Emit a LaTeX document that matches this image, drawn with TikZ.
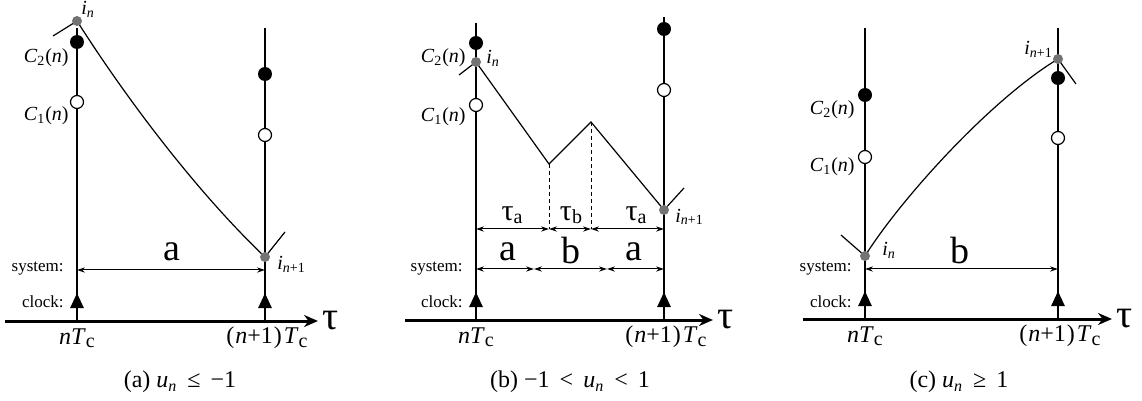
\documentclass[tikz,border=0pt]{standalone}
\usepackage{fontspec}
\setmainfont{Liberation Serif}
\usepackage{tikz}
\usetikzlibrary{arrows.meta}

\newcommand{\iN}{\textit{i}\textsubscript{\textit{n}}}
\newcommand{\iNN}{\textit{i}\textsubscript{\textit{n}+1}}
\newcommand{\Cn}[1]{\textit{C}\textsubscript{#1}(\textit{n})}
\newcommand{\Tc}{\textit{T}\raisebox{-0.3ex}{\fontsize{10}{12}\selectfont c}}
\newcommand{\tauS}[1]{τ\raisebox{-0.2ex}{\fontsize{10}{12}\selectfont #1}}

\begin{document}
\begin{tikzpicture}[x=0.5pt, y=-0.5pt,
  tline/.style={line width=1pt},
  axis/.style={line width=1.5pt, -{Stealth[length=7pt,width=6pt]}},
  clk/.style={line width=1.3pt, -{Triangle[length=7.5pt,width=6.5pt]}},
  sys/.style={line width=0.5pt, {Stealth[length=4pt,width=2.6pt]}-{Stealth[length=4pt,width=2.6pt]}},
  trj/.style={line width=0.6pt},
  fdot/.style={circle, fill=black, inner sep=0pt, minimum size=7pt},
  odot/.style={circle, draw=black, fill=white, line width=0.6pt, inner sep=0pt, minimum size=6.5pt},
  gdot/.style={circle, fill=black!55, inner sep=0pt, minimum size=5pt},
  lbl/.style={inner sep=0pt, font=\fontsize{10}{12}\selectfont},
  smalltxt/.style={inner sep=0pt, font=\fontsize{8.5}{10}\selectfont},
  bigtxt/.style={inner sep=0pt, font=\fontsize{19}{22}\selectfont},
  taulbl/.style={inner sep=0pt, font=\fontsize{15}{18}\selectfont},
  ticklbl/.style={inner sep=0pt, font=\fontsize{12}{14}\selectfont},
  capt/.style={inner sep=0pt, font=\fontsize{12}{14}\selectfont}]
  \useasboundingbox (0,0) rectangle (1142,401);

  % common frame: time lines, clock ticks, axis
  \foreach \p/\xl/\xr/\tl/\tr/\ay/\ax/\bx in
      {a/77/265/28/28/321/5/318, b/476/664/23/17/320/405/713, c/865/1058/28/28/319/803/1112} {
    \coordinate (\p-l) at (\xl,\ay);
    \coordinate (\p-r) at (\xr,\ay);
    \coordinate (\p-lt) at (\xl,\tl);
    \coordinate (\p-rt) at (\xr,\tr);
    \coordinate (\p-a0) at (\ax,\ay);
    \coordinate (\p-a1) at (\bx,\ay);
    \draw[tline] (\p-lt) -- (\p-l);
    \draw[tline] (\p-rt) -- (\p-r);
    \draw[clk] (\p-l) -- ++(0,-28);
    \draw[clk] (\p-r) -- ++(0,-28);
    \draw[axis] (\p-a0) -- (\p-a1);
    \node[anchor=west, inner sep=0pt, font=\fontsize{20}{22}\selectfont] (\p-tau) at ([xshift=2pt]\p-a1) {τ};
    \node[ticklbl] (\p-t0) at (\xl,\ay+17) {\textit{n}\Tc};
    \node[ticklbl] (\p-t1) at (\xr+2,\ay+17) {(\kern0.5pt\textit{n}+1\kern0.5pt)\kern1pt\Tc};
    \node[smalltxt, anchor=east] (\p-sys) at (\xl-13,269) {system:};
    \node[smalltxt, anchor=east] (\p-clk) at (\xl-13,302) {clock:};
  }
  \node[capt] (a-cap) at (180,382) {(a) \textit{u}\textsubscript{\textit{n}} \,≤\, −1};
  \node[capt] (b-cap) at (570,382) {(b) −1 \,<\, \textit{u}\textsubscript{\textit{n}} \,<\, 1};
  \node[capt] (c-cap) at (959,382) {(c) \textit{u}\textsubscript{\textit{n}} \,≥\, 1};

  % (a) u_n <= -1
  \coordinate (a-in) at (77,21);
  \coordinate (a-in1) at (265,257);
  \coordinate (a-s0) at (77,270);
  \coordinate (a-s1) at (265,270);
  \draw[trj] (a-in) .. controls (135,112) and (205,200) .. (a-in1);
  \draw[trj] (a-in) -- ++(-24,15);
  \draw[trj] (a-in1) -- ++(20,-25);
  \draw[sys] (a-s0) -- (a-s1);
  \node[bigtxt] (a-lab) at (172,252) {a};
  \node[fdot] (a-c2) at (77,42) {};
  \node[odot] (a-c1) at (77,102) {};
  \node[fdot] (a-c2r) at (265,74) {};
  \node[odot] (a-c1r) at (265,135) {};
  \node[gdot] (a-dn) at (a-in) {};
  \node[gdot] (a-dn1) at (a-in1) {};
  \node[lbl, anchor=east] (a-c2l) at (69,58) {\Cn{2}};
  \node[lbl, anchor=east] (a-c1l) at (69,116) {\Cn{1}};
  \node[lbl, anchor=base west] (a-inl) at (81,15) {\iN};
  \node[lbl, anchor=base west] (a-in1l) at (277,270) {\iNN};

  % (b) -1 < u_n < 1
  \coordinate (b-in) at (476,62);
  \coordinate (b-in1) at (664,210);
  \coordinate (b-v1) at (549,164);
  \coordinate (b-v2) at (591,122);
  \coordinate (b-ta) at (476,229);
  \coordinate (b-s0) at (476,269);
  \coordinate (b-s1) at (534,269);
  \coordinate (b-s2) at (607,269);
  \coordinate (b-s3) at (664,269);
  \draw[trj] (b-in) -- (b-v1) -- (b-v2) -- (b-in1);
  \draw[trj] (b-in) -- ++(-17,13);
  \draw[trj] (b-in1) -- ++(20,-22);
  \draw[line width=0.5pt, dash pattern=on 2pt off 1.5pt] (b-v1) -- (b-v1 |- b-ta);
  \draw[line width=0.5pt, dash pattern=on 2pt off 1.5pt] (b-v2) -- (b-v2 |- b-ta);
  \draw[sys] (b-ta) -- (b-v1 |- b-ta);
  \draw[sys] (b-v1 |- b-ta) -- (b-v2 |- b-ta);
  \draw[sys] (b-v2 |- b-ta) -- (b-in1 |- b-ta);
  \draw[sys] (b-s0) -- (b-s1);
  \draw[sys] (b-s1) -- (b-s2);
  \draw[sys] (b-s2) -- (b-s3);
  \node[taulbl] (b-ta1) at (512,215) {\tauS{a}};
  \node[taulbl] (b-tb) at (571,215) {\tauS{b}};
  \node[taulbl] (b-ta2) at (636,215) {\tauS{a}};
  \node[bigtxt] (b-la1) at (508,252) {a};
  \node[bigtxt] (b-lb) at (571,251) {b};
  \node[bigtxt] (b-la2) at (634,252) {a};
  \node[fdot] (b-c2) at (476,43) {};
  \node[odot] (b-c1) at (476,105) {};
  \node[fdot] (b-c2r) at (664,29) {};
  \node[odot] (b-c1r) at (664,90) {};
  \node[gdot] (b-dn) at (b-in) {};
  \node[gdot] (b-dn1) at (b-in1) {};
  \node[lbl, anchor=east] (b-c2l) at (466,58) {\Cn{2}};
  \node[lbl, anchor=east] (b-c1l) at (466,117) {\Cn{1}};
  \node[lbl, anchor=base west] (b-inl) at (486,64) {\iN};
  \node[lbl, anchor=base west] (b-in1l) at (675,222) {\iNN};

  % (c) u_n >= 1
  \coordinate (c-in) at (865,256);
  \coordinate (c-in1) at (1058,59);
  \coordinate (c-s0) at (865,269);
  \coordinate (c-s1) at (1058,269);
  \draw[trj] (c-in) .. controls (900,200) and (990,100) .. (c-in1);
  \draw[trj] (c-in) -- ++(-24,-21);
  \draw[trj] (c-in1) -- ++(18,25);
  \draw[sys] (c-s0) -- (c-s1);
  \node[bigtxt] (c-lab) at (960,251) {b};
  \node[fdot] (c-c2) at (865,95) {};
  \node[odot] (c-c1) at (865,157) {};
  \node[fdot] (c-c2r) at (1058,78) {};
  \node[odot] (c-c1r) at (1058,138) {};
  \node[gdot] (c-dn) at (c-in) {};
  \node[gdot] (c-dn1) at (c-in1) {};
  \node[lbl, anchor=east] (c-c2l) at (855,110) {\Cn{2}};
  \node[lbl, anchor=east] (c-c1l) at (855,167) {\Cn{1}};
  \node[lbl, anchor=base west] (c-inl) at (882,256) {\iN};
  \node[lbl, anchor=base west] (c-in1l) at (1024,55) {\iNN};
\end{tikzpicture}
\end{document}
